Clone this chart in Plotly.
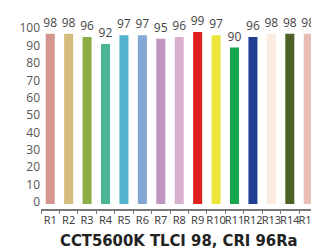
import plotly.graph_objects as go

categories = ["R1","R2","R3","R4","R5","R6","R7","R8","R9","R10","R11","R12","R13","R14","R15"]
values = [98,98,96,92,97,97,95,96,99,97,90,96,98,98,98]
colors = ["#d4968f","#d4bb7e","#8cad45","#4bb597","#52b3cc","#84a8d4","#c095c0","#d9b1cf",
          "#e0201e","#ebe63a","#17a84d","#213f92","#fcebe0","#4e6127","#e9bdb3"]
y_ticks = list(range(0, 101, 10))
title_text = "CCT5600K TLCI 98, CRI 96Ra"

fig = go.Figure(go.Bar(
    x=categories, y=values, marker=dict(color=colors, line=dict(width=0)),
    text=[str(v) for v in values], textposition="outside", constraintext="none",
    textfont=dict(family="Open Sans, Noto Sans, sans-serif", size=12, color="#444"),
    cliponaxis=False,
))

fig.update_layout(
    width=311, height=251,
    margin=dict(l=41, r=0, t=10, b=42, autoexpand=False),
    paper_bgcolor="white", plot_bgcolor="white",
    bargap=0.51, showlegend=False, uniformtext=dict(mode=False),
    xaxis=dict(range=[-0.5, 14.15], showline=True, linecolor="#777", linewidth=1.5,
               ticks="outside", tickson="boundaries", ticklen=3, tickcolor="#777",
               tickangle=0, automargin=False,
               tickfont=dict(family="Noto Sans, sans-serif", size=11, color="#444"),
               showgrid=False, zeroline=False, fixedrange=True),
    yaxis=dict(range=[-2.9, 111.6], tickvals=y_ticks, showgrid=False, zeroline=False,
               showline=False, ticklabelshift=-2, automargin=False,
               tickfont=dict(family="Open Sans, Noto Sans, sans-serif", size=12, color="#555"),
               fixedrange=True),
    annotations=[dict(text="<b>" + title_text + "</b>", xref="paper", yref="paper",
                      x=0.5, y=0, xshift=3, yshift=-31, xanchor="center", yanchor="middle",
                      showarrow=False,
                      font=dict(family="Liberation Sans Narrow, DejaVu Sans Condensed, sans-serif",
                                size=16.5, color="#222"))],
)

fig.write_html("out.html", config={"displayModeBar": False},
               post_script="document.body.style.margin='0';")
